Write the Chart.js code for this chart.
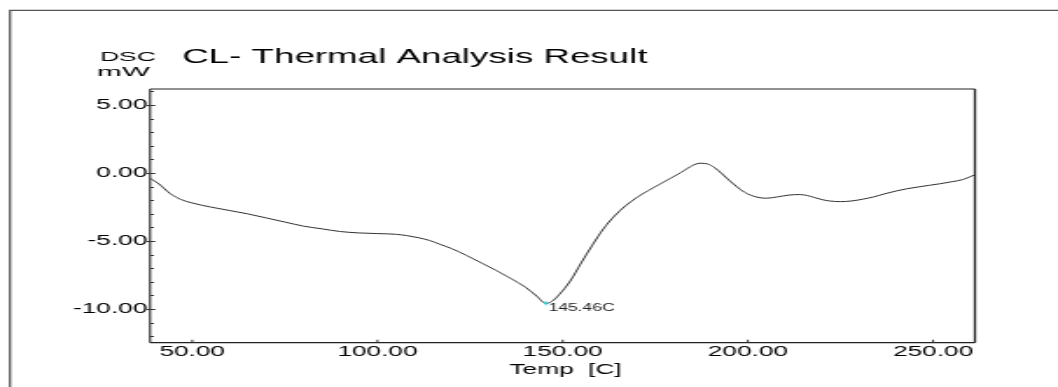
<!DOCTYPE html>
<html>
<head>
<meta charset="utf-8">
<script src="https://cdn.jsdelivr.net/npm/chart.js@4.4.1/dist/chart.umd.min.js"></script>
<style>
  html, body { margin: 0; padding: 0; background: #fff; overflow: hidden; }
  #c { display: block; width: 1058px; height: 387px; }
</style>
</head>
<body>
<canvas id="c" width="605" height="387" style="width:1058px;height:387px;"></canvas>
<script>
// ---- data ----
const temps = [38.6, 41, 44, 47, 50, 55, 60, 65, 70, 75, 80, 85, 90, 95, 100, 105, 108, 111, 114, 117, 120, 124, 128, 132, 136, 140, 143, 145.46, 147, 149, 152, 155, 158, 161, 164, 167, 170, 173, 176, 179, 182, 185, 187, 189, 191, 193, 195, 197, 199, 201, 203, 205, 208, 211, 214, 216, 218, 220, 222, 225, 228, 231, 234, 237, 240, 243, 246, 249, 252, 255, 258, 261.3];
const dsc = [-0.38, -0.8, -1.5, -1.95, -2.2, -2.5, -2.75, -3.0, -3.3, -3.6, -3.9, -4.1, -4.3, -4.4, -4.45, -4.5, -4.6, -4.75, -4.95, -5.25, -5.55, -6.05, -6.6, -7.15, -7.75, -8.4, -9.05, -9.58, -9.45, -8.95, -7.95, -6.6, -5.3, -4.1, -3.15, -2.4, -1.8, -1.3, -0.85, -0.4, 0.05, 0.55, 0.72, 0.68, 0.4, -0.05, -0.55, -1.0, -1.4, -1.65, -1.8, -1.85, -1.75, -1.62, -1.58, -1.65, -1.8, -1.95, -2.05, -2.1, -2.05, -1.92, -1.75, -1.52, -1.32, -1.15, -1.02, -0.9, -0.78, -0.64, -0.48, -0.12];
const peakTemp = 145.46;
const peakValue = -9.58;
const peakLabel = '145.46C';
const titleText = 'CL- Thermal Analysis Result';
const yUnitLines = ['DSC', 'mW'];
const xAxisTitle = 'Temp  [C]';
const xRange = [38.6, 261.3];
const yRange = [-12.47, 6.18];
const xTickValues = [50, 100, 150, 200, 250];
const yTickValues = [-12, -11, -10, -9, -8, -7, -6, -5, -4, -3, -2, -1, 0, 1, 2, 3, 4, 5, 6];
const yMajorStep = 5;

const FONT = '"Liberation Sans", Arial, sans-serif';

const decor = {
  id: 'decor',
  afterDraw(chart) {
    const ctx = chart.ctx;
    const a = chart.chartArea;
    const xs = chart.scales.x, ys = chart.scales.y;
    ctx.save();
    // outer frame
    ctx.strokeStyle = '#555';
    ctx.lineWidth = 1.3;
    ctx.beginPath();
    ctx.moveTo(5.7, 387);
    ctx.lineTo(5.7, 10.3);
    ctx.lineTo(605, 10.3);
    ctx.stroke();

    // plot box
    ctx.strokeStyle = '#222';
    ctx.lineWidth = 1;
    ctx.beginPath(); ctx.moveTo(a.left, a.top); ctx.lineTo(a.right, a.top); ctx.stroke();
    ctx.lineWidth = 1.2;
    ctx.beginPath(); ctx.moveTo(a.left, a.bottom); ctx.lineTo(a.right, a.bottom); ctx.stroke();
    ctx.lineWidth = 1.1;
    ctx.beginPath(); ctx.moveTo(a.left, a.top); ctx.lineTo(a.left, a.bottom); ctx.stroke();
    ctx.lineWidth = 1.3;
    ctx.beginPath(); ctx.moveTo(a.right, a.top); ctx.lineTo(a.right, a.bottom); ctx.stroke();

    // y ticks
    ctx.lineWidth = 1;
    ctx.strokeStyle = '#333';
    ys.ticks.forEach(t => {
      const v = t.value;
      const py = Math.round(ys.getPixelForValue(v)) + 0.5;
      const major = Math.abs(v % yMajorStep) < 1e-6;
      ctx.beginPath();
      ctx.moveTo(a.left - (major ? 2 : 0), py);
      ctx.lineTo(a.left + (major ? 3 : 2.2), py);
      ctx.stroke();
    });
    // x ticks
    xs.ticks.forEach(t => {
      const px = xs.getPixelForValue(t.value);
      ctx.beginPath();
      ctx.moveTo(px, a.bottom);
      ctx.lineTo(px, a.bottom - 3);
      ctx.stroke();
    });

    // texts
    ctx.fillStyle = '#000';
    ctx.textBaseline = 'alphabetic';
    ctx.textAlign = 'left';
    ctx.font = '21px ' + FONT;
    ctx.fillText(titleText, 104.2, 63);

    ctx.font = '12px ' + FONT;
    ctx.save(); ctx.translate(57.2, 61); ctx.scale(1.26, 1); ctx.fillText(yUnitLines[0], 0, 0); ctx.restore();
    ctx.save(); ctx.translate(55.6, 76); ctx.scale(1.41, 1); ctx.fillText(yUnitLines[1], 0, 0); ctx.restore();

    ctx.font = '15px ' + FONT;
    ctx.textAlign = 'right';
    ctx.fillText(xAxisTitle, 355.5, 374);

    // peak marker + label
    const mx = xs.getPixelForValue(peakTemp), my = ys.getPixelForValue(peakValue);
    ctx.strokeStyle = '#22d0e0';
    ctx.lineWidth = 1;
    ctx.beginPath();
    ctx.moveTo(mx - 1.2, my); ctx.lineTo(mx + 1.2, my);
    ctx.moveTo(mx, my - 2); ctx.lineTo(mx, my + 2);
    ctx.stroke();
    ctx.fillStyle = '#222';
    ctx.textAlign = 'left';
    ctx.font = '10px ' + FONT;
    ctx.fillText(peakLabel, mx + 1.5, my + 8);
    ctx.restore();
  }
};

const chart = new Chart(document.getElementById('c'), {
  type: 'line',
  data: {
    datasets: [{
      data: temps.map((t, i) => ({ x: t, y: dsc[i] })),
      borderColor: '#1a1a1a',
      borderWidth: 0.9,
      pointRadius: 0,
      cubicInterpolationMode: 'monotone',
      fill: false
    }]
  },
  options: {
    responsive: false,
    devicePixelRatio: 1,
    animation: false,
    events: [],
    layout: { padding: { left: 0, top: 89, right: 47.5, bottom: 0 } },
    plugins: { legend: { display: false }, title: { display: false }, tooltip: { enabled: false } },
    scales: {
      x: {
        type: 'linear',
        min: xRange[0], max: xRange[1],
        afterBuildTicks(s) { s.ticks = xTickValues.map(v => ({ value: v })); },
        afterFit(s) { s.height = 44.3; },
        grid: { display: false, drawTicks: false },
        border: { display: false },
        ticks: {
          autoSkip: false, maxRotation: 0, minRotation: 0, padding: 0,
          color: '#000', font: { family: FONT, size: 15 },
          callback: v => Number(v).toFixed(2)
        }
      },
      y: {
        type: 'linear',
        min: yRange[0], max: yRange[1],
        afterBuildTicks(s) { s.ticks = yTickValues.map(v => ({ value: v })); },
        afterFit(s) { s.width = 85.8; },
        grid: { display: false, drawTicks: false },
        border: { display: false },
        ticks: {
          autoSkip: false, padding: 1.5,
          color: '#000', font: { family: FONT, size: 15 },
          callback: v => Math.abs(v % yMajorStep) < 1e-6 ? Number(v).toFixed(2) : ''
        }
      }
    }
  },
  plugins: [decor]
});
const cv = document.getElementById('c');
cv.style.width = '1058px';
cv.style.height = '387px';
</script>
</body>
</html>
